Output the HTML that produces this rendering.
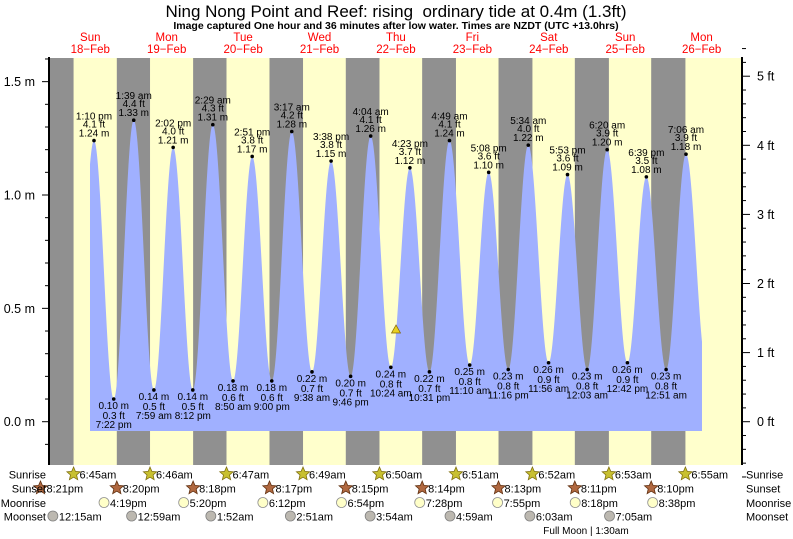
<!DOCTYPE html>
<html><head><meta charset="utf-8"><style>
html,body{margin:0;padding:0;background:#fff;width:793px;height:539px;overflow:hidden}
svg text{font-family:"Liberation Sans",sans-serif}
</style></head><body>
<svg id="s" width="793" height="539" viewBox="0 0 793 539" xmlns="http://www.w3.org/2000/svg">
<text x="396" y="17" font-size="17" text-anchor="middle" fill="#000">Ning Nong Point and Reef: rising&#160; ordinary tide at 0.4m (1.3ft)</text>
<text x="396" y="29" font-size="10.5" font-weight="bold" text-anchor="middle" fill="#000">Image captured One hour and 36 minutes after low water. Times are NZDT (UTC +13.0hrs)</text>
<g id="g"></g>
</svg>
<script>
var NS="http://www.w3.org/2000/svg",g=document.getElementById('g');
function el(t,a,txt){var e=document.createElementNS(NS,t);for(var k in a)e.setAttribute(k,a[k]);if(txt!==undefined)e.textContent=txt;g.appendChild(e);return e;}
var A=52.07,B=3.184;function X(t){return A+B*t;}function Y(h){return 421.7-h*226.7;}
el('rect',{x:49,y:58,width:693,height:407,fill:'#ffffcc'});
var rise=[6.75,6.767,6.783,6.817,6.833,6.85,6.867,6.883,6.917];
var set=[20.367,20.333,20.3,20.283,20.25,20.233,20.217,20.183,20.167];
var prevSet=-24+20.367;
for(var d=0;d<9;d++){var x1=Math.max(49,X(d===0?prevSet:(d-1)*24+set[d])),x2=X(d*24+rise[d]);el('rect',{x:x1,y:58,width:x2-x1,height:407,fill:'#909090'});}
var E=[[13.167,1.24],[19.367,0.10],[25.65,1.33],[31.983,0.14],[38.033,1.21],[44.2,0.14],[50.483,1.31],[56.833,0.18],[62.85,1.17],[69,0.18],[75.283,1.28],[81.633,0.22],[87.633,1.15],[93.767,0.20],[100.067,1.26],[106.4,0.24],[112.383,1.12],[118.517,0.22],[124.817,1.24],[131.167,0.25],[137.133,1.10],[143.267,0.23],[149.567,1.22],[155.933,0.26],[161.883,1.09],[168.05,0.23],[174.333,1.20],[180.7,0.26],[186.65,1.08],[192.85,0.23],[199.1,1.18],[205.5,0.25]];
E.unshift([7,0.18]);
function H(t){for(var i=0;i<E.length-1;i++){if(t>=E[i][0]&&t<=E[i+1][0]){var f=(t-E[i][0])/(E[i+1][0]-E[i][0]);return E[i][1]+(E[i+1][1]-E[i][1])*(1-Math.cos(Math.PI*f))/2;}}return 0;}
var p='M90,431';for(var x=90;x<=702;x+=0.5){p+=' L'+x+','+Y(H((x-A)/B)).toFixed(2);}p+=' L702,431 Z';
el('path',{d:p,fill:'#a0b0ff'});
var lab=[['1:10 pm','4.1 ft','1.24 m'],['0.10 m','0.3 ft','7:22 pm'],['1:39 am','4.4 ft','1.33 m'],['0.14 m','0.5 ft','7:59 am'],['2:02 pm','4.0 ft','1.21 m'],['0.14 m','0.5 ft','8:12 pm'],['2:29 am','4.3 ft','1.31 m'],['0.18 m','0.6 ft','8:50 am'],['2:51 pm','3.8 ft','1.17 m'],['0.18 m','0.6 ft','9:00 pm'],['3:17 am','4.2 ft','1.28 m'],['0.22 m','0.7 ft','9:38 am'],['3:38 pm','3.8 ft','1.15 m'],['0.20 m','0.7 ft','9:46 pm'],['4:04 am','4.1 ft','1.26 m'],['0.24 m','0.8 ft','10:24 am'],['4:23 pm','3.7 ft','1.12 m'],['0.22 m','0.7 ft','10:31 pm'],['4:49 am','4.1 ft','1.24 m'],['0.25 m','0.8 ft','11:10 am'],['5:08 pm','3.6 ft','1.10 m'],['0.23 m','0.8 ft','11:16 pm'],['5:34 am','4.0 ft','1.22 m'],['0.26 m','0.9 ft','11:56 am'],['5:53 pm','3.6 ft','1.09 m'],['0.23 m','0.8 ft','12:03 am'],['6:20 am','3.9 ft','1.20 m'],['0.26 m','0.9 ft','12:42 pm'],['6:39 pm','3.5 ft','1.08 m'],['0.23 m','0.8 ft','12:51 am'],['7:06 am','3.9 ft','1.18 m']];
for(var i=0;i<lab.length;i++){var e=E[i+1],x=X(e[0]),y=Y(e[1]),L=lab[i];el('circle',{cx:x,cy:y,r:1.8,fill:'#000'});
var o={'font-size':10,'text-anchor':'middle',fill:'#000'};
if(i%2==0){[[-21,0],[-13,1],[-4,2]].forEach(function(q){o.x=x;o.y=y+q[0];el('text',Object.assign({},o),L[q[1]]);});}
else{[[10,0],[20,1],[29,2]].forEach(function(q){o.x=x;o.y=y+q[0];el('text',Object.assign({},o),L[q[1]]);});}}
el('polygon',{points:'396,325 391.5,333 400.5,333',fill:'#e8d020',stroke:'#806000','stroke-width':0.7});
var days=[['Sun','18−Feb'],['Mon','19−Feb'],['Tue','20−Feb'],['Wed','21−Feb'],['Thu','22−Feb'],['Fri','23−Feb'],['Sat','24−Feb'],['Sun','25−Feb'],['Mon','26−Feb']];
days.forEach(function(d,i){var x=X(i*24+12);el('text',{x:x,y:41,'font-size':11.5,'text-anchor':'middle',fill:'#ff0000'},d[0]);el('text',{x:x,y:53,'font-size':11.5,'text-anchor':'middle',fill:'#ff0000'},d[1]);});
el('line',{x1:49,y1:57,x2:49,y2:465,stroke:'#000','stroke-width':2});
el('line',{x1:742,y1:57,x2:742,y2:465,stroke:'#000','stroke-width':2});
for(var h=-0.1;h<=1.601;h+=0.1){var y=Y(h),maj=Math.abs(Math.round(h*10)%5)==0;el('line',{x1:maj?42:45,y1:y,x2:49,y2:y,stroke:'#000'});
if(maj)el('text',{x:35,y:y+4.5,'font-size':12.5,'text-anchor':'end',fill:'#000'},h.toFixed(1)+' m');}
for(var f=-0.8;f<=5.41;f+=0.2){var y=Y(f*0.3048),r=Math.round(f*5),maj=r%5==0;el('line',{x1:742,y1:y,x2:maj?750:746,y2:y,stroke:'#000'});
if(maj)el('text',{x:757,y:y+4.5,'font-size':12.5,fill:'#000'},Math.round(f)+' ft');}
function star(cx,cy,fill,st){var pts=[];for(var k=0;k<10;k++){var a=-Math.PI/2+k*Math.PI/5,r=k%2?3.2:7;pts.push((cx+r*Math.cos(a)).toFixed(1)+','+(cy+r*Math.sin(a)).toFixed(1));}el('polygon',{points:pts.join(' '),fill:fill,stroke:st,'stroke-width':0.8});}
var fs={'font-size':11,fill:'#000'};
function t(x,y,s,anc){var o=Object.assign({x:x,y:y},fs);if(anc)o['text-anchor']=anc;el('text',o,s);}
var rs=['6:45am','6:46am','6:47am','6:49am','6:50am','6:51am','6:52am','6:53am','6:55am'];
rs.forEach(function(s,i){var x=X(i*24+rise[i]);star(x,474,'#c8c030','#807010');t(x+6,478.5,s);});
var ss=['8:21pm','8:20pm','8:18pm','8:17pm','8:15pm','8:14pm','8:13pm','8:11pm','8:10pm'];
var st=[20.367,20.333,20.3,20.283,20.25,20.233,20.217,20.183,20.167];
ss.forEach(function(s,i){var x=X((i-1)*24+st[i]);star(x,488,'#b06840','#603010');t(x+6,492.5,s);});
var mr=[['4:19pm',16.317],['5:20pm',17.333],['6:12pm',18.2],['6:54pm',18.9],['7:28pm',19.467],['7:55pm',19.917],['8:18pm',20.3],['8:38pm',20.633]];
mr.forEach(function(m,i){var x=X(i*24+m[1]);el('circle',{cx:x,cy:502.5,r:5,fill:'#ffffc8',stroke:'#909090','stroke-width':0.8});t(x+6,507,m[0]);});
var ms=[['12:15am',0.25],['12:59am',0.983],['1:52am',1.867],['2:51am',2.85],['3:54am',3.9],['4:59am',4.983],['6:03am',6.05],['7:05am',7.083]];
ms.forEach(function(m,i){var x=X(i*24+m[1]);el('circle',{cx:x,cy:516,r:5,fill:'#bcb8b0',stroke:'#808080','stroke-width':0.8});t(x+6,520.5,m[0]);});
t(46,478.5,'Sunrise','end');t(46,492.5,'Sunset','end');t(46,507,'Moonrise','end');t(46,520.5,'Moonset','end');
t(746,478.5,'Sunrise');t(746,492.5,'Sunset');t(746,507,'Moonrise');t(746,520.5,'Moonset');
el('text',{x:586,y:534,'font-size':10,'text-anchor':'middle',fill:'#000'},'Full Moon | 1:30am');
</script>
</body></html>
